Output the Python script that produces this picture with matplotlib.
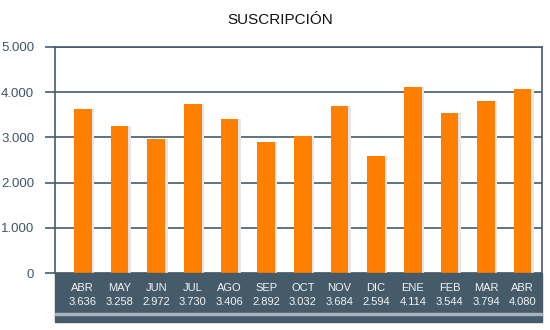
import matplotlib.pyplot as plt
from matplotlib.patches import Rectangle
from matplotlib.ticker import FuncFormatter

meses = ["ABR", "MAY", "JUN", "JUL", "AGO", "SEP", "OCT", "NOV", "DIC", "ENE", "FEB", "MAR", "ABR"]
valores = [3636, 3258, 2972, 3730, 3406, 2892, 3032, 3684, 2594, 4114, 3544, 3794, 4080]

naranja = "#FF8000"
pizarra = "#455B6A"

plt.rcParams["font.family"] = ["Liberation Sans", "DejaVu Sans"]

fig = plt.figure(figsize=(5.5, 3.3), dpi=100)
ax = fig.add_axes([0.1, 0.1727, 0.885, 0.685])

x = range(len(valores))
# sombra clara a la derecha de cada barra
ax.bar([i + 0.07 for i in x], valores, width=0.48, color="#E3E6EA", zorder=2)
ax.bar(x, valores, width=0.48, color=naranja, zorder=3)

ax.set_xlim(-0.76, len(valores) - 0.48)
ax.set_ylim(0, 5000)
ax.set_yticks(range(0, 5001, 1000))
ax.yaxis.set_major_formatter(FuncFormatter(lambda v, p: f"{int(v):,}".replace(",", ".")))
ax.set_xticks([])
ax.yaxis.grid(True, color=pizarra, linewidth=1.2, zorder=1)
ax.tick_params(axis="y", length=7, width=1.2, color=pizarra, pad=8, labelsize=9.5, labelcolor="#3E5566")
for s in ax.spines.values():
    s.set_color(pizarra)
    s.set_linewidth(1.2)
ax.spines["bottom"].set_visible(False)

# banda inferior con meses y valores
h = 226.0
ax.add_patch(Rectangle((0, -49 / h), 1, 49 / h, transform=ax.transAxes,
                       color=pizarra, clip_on=False, zorder=4))
ax.add_patch(Rectangle((0, -42 / h), 1, 2 / h, transform=ax.transAxes,
                       color="#A8B4BD", clip_on=False, zorder=5))
for i, (m, v) in enumerate(zip(meses, valores)):
    ax.text(i, -15 / h * 5000, m, ha="center", va="center", color="#F2F4F6",
            fontsize=8, clip_on=False, zorder=6)
    ax.text(i, -29 / h * 5000, f"{v:,}".replace(",", "."), ha="center", va="center",
            color="#F2F4F6", fontsize=8, clip_on=False, zorder=6)

fig.text(0.51, 0.94, "SUSCRIPCIÓN", ha="center", va="center", fontsize=11, color="#111111")

fig.savefig("out.png", dpi=100)
